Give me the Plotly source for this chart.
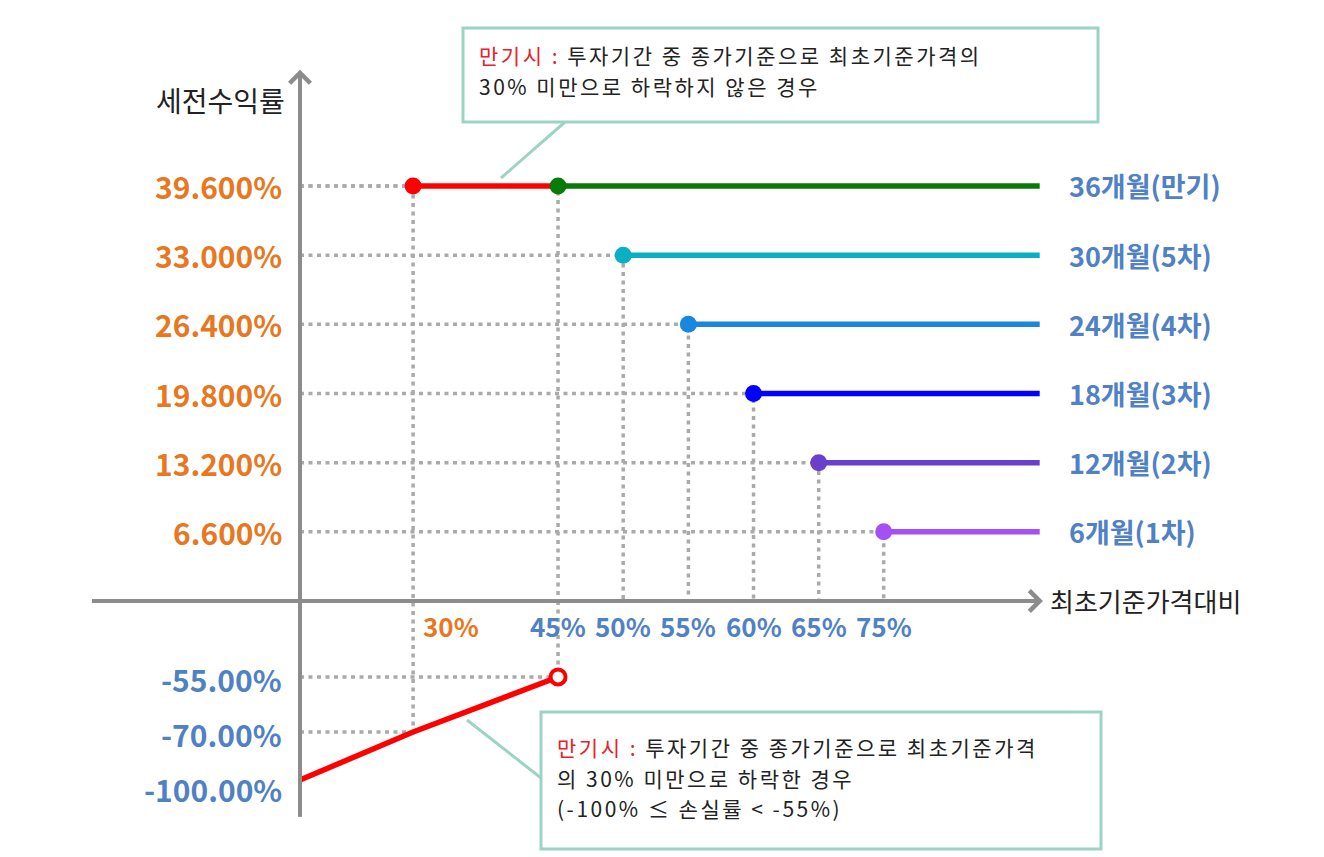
import numpy as np
import plotly.graph_objects as go

# early redemption schedule (barrier % of initial price -> pre-tax return %)
barriers = [75, 65, 60, 55, 50, 45]
coupons = [6.6, 13.2, 19.8, 26.4, 33.0, 39.6]
periods = ["6개월(1차)", "12개월(2차)", "18개월(3차)", "24개월(4차)", "30개월(5차)", "36개월(만기)"]
line_colors = ["#A450F5", "#6A3FCB", "#0000FF", "#1A87DE", "#0AAFC4", "#087A08"]

coupon_labels = ["6.600%", "13.200%", "19.800%", "26.400%", "33.000%", "39.600%"]
barrier_labels = ["75%", "65%", "60%", "55%", "50%", "45%"]

# knock-in barrier and maturity loss range
ki_barrier = 30
ki_label = "30%"
loss_x = [0, 30, 45]
loss_y = [-100, -70, -55]
loss_labels = ["-100.00%", "-70.00%", "-55.00%"]

# schematic axes: the original graphic is not drawn to scale
X_KNOTS = [0, 30, 45, 65, 75]
X_SLOTS = [0, 1.74, 3.97, 7.98, 8.98]
Y_KNOTS = [-100, -70, -55, 0, 39.6]
Y_UNITS = [-17.08, -12.5, -7.25, 0, 39.6]
X_END = 11.38


def sx(v):
    return np.interp(v, X_KNOTS, X_SLOTS)


def sy(v):
    return np.interp(v, Y_KNOTS, Y_UNITS)


FONT = "Noto Sans CJK KR"
ORANGE = "#E87722"
BLUE = "#4F81C4"
GRAY = "#8C8C8C"
DOT = "#AAAAAA"
MINT = "#9CD3C4"
RED = "#FF0000"

fig = go.Figure()

dot_line = dict(color=DOT, width=3.5, dash="4px,4.5px")

# dotted guides from the axes to each redemption point
for b, c in zip(barriers, coupons):
    fig.add_trace(go.Scatter(x=[0, sx(b), sx(b)], y=[sy(c), sy(c), 0], mode="lines",
                             line=dot_line, hoverinfo="skip"))
# guides for knock-in barrier / loss points
fig.add_trace(go.Scatter(x=[0, sx(ki_barrier)], y=[sy(coupons[-1])] * 2, mode="lines",
                         line=dot_line, hoverinfo="skip"))
fig.add_trace(go.Scatter(x=[sx(ki_barrier)] * 2, y=[sy(coupons[-1]), sy(loss_y[1])], mode="lines",
                         line=dot_line, hoverinfo="skip"))
fig.add_trace(go.Scatter(x=[0, sx(loss_x[1])], y=[sy(loss_y[1])] * 2, mode="lines",
                         line=dot_line, hoverinfo="skip"))
fig.add_trace(go.Scatter(x=[sx(barriers[-1])] * 2, y=[0, sy(loss_y[2])], mode="lines",
                         line=dot_line, hoverinfo="skip"))
fig.add_trace(go.Scatter(x=[0, sx(loss_x[2])], y=[sy(loss_y[2])] * 2, mode="lines",
                         line=dot_line, hoverinfo="skip"))

# red segment between KI barrier and maturity barrier
fig.add_trace(go.Scatter(x=[sx(ki_barrier), sx(barriers[-1])], y=[sy(coupons[-1])] * 2,
                         mode="lines", line=dict(color=RED, width=5.5), hoverinfo="skip"))
fig.add_trace(go.Scatter(x=[sx(ki_barrier)], y=[sy(coupons[-1])], mode="markers",
                         marker=dict(size=17, color=RED), hoverinfo="skip"))

# payoff lines
for b, c, col in zip(barriers, coupons, line_colors):
    fig.add_trace(go.Scatter(x=[sx(b), X_END], y=[sy(c)] * 2, mode="lines",
                             line=dict(color=col, width=5.5), hoverinfo="skip"))
    fig.add_trace(go.Scatter(x=[sx(b)], y=[sy(c)], mode="markers",
                             marker=dict(size=17, color=col), hoverinfo="skip"))

# loss line at maturity
fig.add_trace(go.Scatter(x=sx(loss_x), y=sy(loss_y), mode="lines",
                         line=dict(color=RED, width=5.5), hoverinfo="skip"))
fig.add_trace(go.Scatter(x=[sx(loss_x[-1])], y=[sy(loss_y[-1])], mode="markers",
                         marker=dict(size=15, color="white", line=dict(color=RED, width=4)),
                         hoverinfo="skip"))

ann = []
# axis arrows
ann.append(dict(x=0, y=sy(coupons[-1]) + 11.1, ax=0, ay=747, showarrow=True, arrowhead=4,
                arrowsize=1, arrowwidth=4, arrowcolor=GRAY, text=""))
ann.append(dict(x=X_END + 0.05, y=0, ax=-951, ay=0, showarrow=True, arrowhead=4,
                arrowsize=1, arrowwidth=4, arrowcolor=GRAY, text=""))

# y tick labels
for c, t in zip(coupons, coupon_labels):
    ann.append(dict(x=0, y=sy(c), text="<b>%s</b>" % t, xanchor="right", xshift=-16,
                    showarrow=False, font=dict(size=30, color=ORANGE)))
for v, t in zip(loss_y, loss_labels):
    ann.append(dict(x=0, y=sy(v), text="<b>%s</b>" % t, xanchor="right", xshift=-16,
                    yshift=-9 if v == -100 else -2,
                    showarrow=False, font=dict(size=30, color=BLUE)))

# x tick labels
for b, t in zip(barriers, barrier_labels):
    ann.append(dict(x=sx(b), y=0, text="<b>%s</b>" % t, yshift=-24, showarrow=False,
                    font=dict(size=26, color=BLUE)))
ann.append(dict(x=sx(ki_barrier), y=0, text="<b>%s</b>" % ki_label, xanchor="left", xshift=8,
                yshift=-24, showarrow=False, font=dict(size=26, color=ORANGE)))

# period labels on the right
for c, t in zip(coupons, periods):
    ann.append(dict(x=X_END, y=sy(c), text="<b>%s</b>" % t, xanchor="left", xshift=27,
                    showarrow=False, font=dict(size=27, color=BLUE)))

# axis titles
ann.append(dict(x=X_END, y=0, text="최초기준가격대비", xanchor="left", xshift=8, yshift=1,
                showarrow=False, font=dict(size=26, color="#222222")))
ann.append(dict(x=0, y=1 - 100 / 857, yref="paper", text="세전수익률", xanchor="right",
                yanchor="middle", xshift=-13, showarrow=False,
                font=dict(size=28, color="#222222")))

# callout texts, one annotation per line
red = "<span style='color:#E8202A'>만기시 :</span> "
top_lines = [red + "투자기간 중 종가기준으로 최초기준가격의", "30% 미만으로 하락하지 않은 경우"]
bot_lines = [red + "투자기간 중 종가기준으로 최초기준가격", "의 30% 미만으로 하락한 경우",
             "(-100% ≤ 손실률 < -55%)"]


def wide(t):
    return "<span style='letter-spacing:2.5px'>%s</span>" % t


for i, t in enumerate(top_lines):
    ann.append(dict(x=477 / 1324, y=1 - (55 + 31 * i) / 857, xref="paper", yref="paper",
                    text=wide(t), xanchor="left", yanchor="middle", showarrow=False,
                    font=dict(size=21, color="#222222")))
for i, t in enumerate(bot_lines):
    ann.append(dict(x=555 / 1324, y=1 - (747 + 30.6 * i) / 857, xref="paper", yref="paper",
                    text=wide(t), xanchor="left", yanchor="middle", showarrow=False,
                    font=dict(size=21, color="#222222")))

shapes = [
    # y axis below origin (arrow annotation covers the rest)
    dict(type="line", xref="x", yref="y", x0=0, x1=0, y0=0, y1=-20.6, line=dict(color=GRAY, width=4)),
    # x axis left of origin
    dict(type="line", xref="x", yref="y", x0=-3.2, x1=0, y0=0, y1=0, line=dict(color=GRAY, width=4)),
    # callout boxes
    dict(type="rect", xref="paper", yref="paper", x0=463 / 1324, x1=1098 / 1324,
         y0=1 - 122 / 857, y1=1 - 28 / 857, line=dict(color=MINT, width=3), fillcolor="white"),
    dict(type="line", xref="paper", yref="paper", x0=565 / 1324, y0=1 - 122 / 857,
         x1=501 / 1324, y1=1 - 178 / 857, line=dict(color=MINT, width=3)),
    dict(type="rect", xref="paper", yref="paper", x0=541 / 1324, x1=1101 / 1324,
         y0=1 - 849 / 857, y1=1 - 712 / 857, line=dict(color=MINT, width=3), fillcolor="white"),
    dict(type="line", xref="paper", yref="paper", x0=541 / 1324, y0=1 - 778 / 857,
         x1=467 / 1324, y1=1 - 720 / 857, line=dict(color=MINT, width=3)),
]

fig.update_layout(
    width=1324, height=857,
    margin=dict(l=0, r=0, t=0, b=0),
    paper_bgcolor="white", plot_bgcolor="white",
    showlegend=False,
    font=dict(family=FONT),
    xaxis=dict(range=[-300 / 65, 1024 / 65], visible=False, fixedrange=True),
    yaxis=dict(range=[-256 / 10.48, 601 / 10.48], visible=False, fixedrange=True),
    annotations=ann,
    shapes=shapes,
)

# drop the page's default body margin so the figure sits at the window corner
fig.write_html("out.html", config={"displayModeBar": False},
               post_script="document.body.style.margin='0';")
